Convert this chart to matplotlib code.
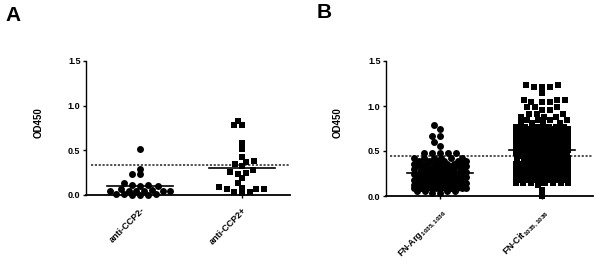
import numpy as np
import matplotlib
matplotlib.use('Agg')
import matplotlib.pyplot as plt

plt.rcParams['font.family'] = ['Liberation Sans', 'DejaVu Sans']
plt.rcParams['mathtext.fontset'] = 'custom'
plt.rcParams['mathtext.rm'] = 'Liberation Sans'
plt.rcParams['mathtext.bf'] = 'Liberation Sans:bold'
plt.rcParams['mathtext.default'] = 'regular'

# ---------------- data ----------------
# Panel A
a_categories = ['anti-CCP2-', 'anti-CCP2+']
a_neg = [0.52, 0.29, 0.23, 0.23, 0.13, 0.11, 0.11, 0.10, 0.10,
         0.05, 0.05, 0.04, 0.05, 0.06, 0.05, 0.04, 0.07,
         0.0, 0.01, 0.0, 0.01, 0.0, 0.01]
a_pos = [0.78, 0.78, 0.83, 0.58, 0.52, 0.42, 0.37, 0.38, 0.32, 0.35, 0.26, 0.24,
         0.25, 0.28, 0.19, 0.13, 0.09, 0.08, 0.07, 0.065, 0.07, 0.03, 0.02, 0.03]
a_cutoff = 0.34

# Panel B (values read as row levels with the number of points at each level)
b_categories = ['FN-Arg$_{1035,1036}$', 'FN-Cit$_{1035,1036}$']
b_arg_levels = [0.79, 0.75, 0.67, 0.60, 0.56, 0.48, 0.42, 0.39, 0.36, 0.33, 0.30,
                0.27, 0.24, 0.21, 0.18, 0.15, 0.12, 0.09, 0.06, 0.03]
b_arg_counts = [1, 1, 2, 1, 1, 5, 6, 6, 7, 7, 8, 8, 9, 10, 11, 12, 12, 12, 4, 2]
b_cit_levels = [1.23, 1.21, 1.15, 1.07, 1.04, 0.99, 0.96, 0.91, 0.88, 0.84, 0.81,
                0.77, 0.74, 0.72, 0.69, 0.66, 0.63, 0.60, 0.57, 0.54, 0.51, 0.48,
                0.45, 0.42, 0.39, 0.36, 0.33, 0.30, 0.27, 0.24, 0.21, 0.18, 0.15,
                0.12, 0.07, 0.0]
b_cit_counts = [2, 3, 1, 3, 3, 3, 2, 3, 3, 4, 4, 6, 8, 8, 8, 8, 8, 8, 8, 9, 9, 9,
                9, 9, 9, 11, 11, 11, 11, 11, 11, 11, 8, 1, 1, 1]
b_cutoff = 0.44

yticks = [0.0, 0.5, 1.0, 1.5]
ylabel = 'OD450'

# ---------------- helpers ----------------
def swarm_x(ax, xc, values, hx, hy, max_half_px):
    """Beeswarm-like layout in pixel space (elliptic collision hx/hy)."""
    x0, x1 = ax.get_xlim()
    y0, y1 = ax.get_ylim()
    sx = ax.bbox.width / (x1 - x0)
    sy = ax.bbox.height / (y1 - y0)
    vals = np.asarray(values, float)
    order = np.argsort(vals, kind='stable')
    cands = np.arange(-max_half_px, max_half_px + 0.01, 1.0)
    cands = cands[np.argsort(np.abs(cands), kind='stable')]
    PX, PY = [], []
    xs = np.zeros(len(vals))
    for i in order:
        py = vals[i] * sy
        ox = 0.0
        if PX:
            ax_ = np.array(PX)
            ay_ = np.array(PY)
            m = np.abs(ay_ - py) < hy
            if m.any():
                d = np.min(np.hypot((cands[:, None] - ax_[m][None, :]) / hx,
                                    (py - ay_[m][None, :]) / hy), axis=1)
                ok = np.where(d >= 1.0)[0]
                j = ok[0] if len(ok) else int(np.argmax(d))
                ox = cands[j]
        PX.append(ox)
        PY.append(py)
        xs[i] = xc + ox / sx
    return xs


def expand(levels, counts):
    out = []
    for v, c in zip(levels, counts):
        out.extend([v] * c)
    return out


def style_axes(ax, cats, xlim):
    ax.set_xlim(*xlim)
    ax.set_ylim(0, 1.5)
    for s in ['top', 'right']:
        ax.spines[s].set_visible(False)
    ax.spines['left'].set_linewidth(1.0)
    ax.spines['bottom'].set_linewidth(1.3)
    ax.set_yticks(yticks)
    ax.set_yticklabels(['%.1f' % t for t in yticks], fontsize=6.5, fontweight='bold')
    ax.tick_params(axis='y', length=2.5, width=1.0, pad=1.5)
    ax.set_xticks(range(len(cats)))
    ax.set_xticklabels(cats, rotation=45, ha='right', va='top',
                       rotation_mode='anchor', fontsize=6.5, fontweight='bold')
    ax.tick_params(axis='x', length=2.5, width=1.0, pad=5)
    ax.set_ylabel(ylabel, fontsize=7, fontweight='bold')


fig = plt.figure(figsize=(6.0, 2.72), dpi=100)
W, H = 600.0, 272.0

axA = fig.add_axes([86 / W, 77 / H, 204 / W, 134 / H])
axB = fig.add_axes([386 / W, 76 / H, 207 / W, 135 / H])

style_axes(axA, a_categories, (-0.53, 1.47))
style_axes(axB, b_categories, (-0.53, 1.5))
axA.yaxis.set_label_coords(-0.21, 0.54)
axB.yaxis.set_label_coords(-0.208, 0.54)

ms_c = 5.0
ms_s = 4.8
half_mean = 0.32
cut_style = dict(color='#333333', lw=1.2, linestyle=(0, (1.3, 1.0)), zorder=2)

# Panel A
xa0 = swarm_x(axA, 0, a_neg, 8.0, 5.0, 30)
xa1 = swarm_x(axA, 1, a_pos, 8.0, 5.0, 30)
axA.plot(xa0, a_neg, 'o', color='black', ms=ms_c, mew=0, clip_on=False, zorder=3)
axA.plot(xa1, a_pos, 's', color='black', ms=ms_s, mew=0, clip_on=False, zorder=3)
for xc, vals in [(0, a_neg), (1, a_pos)]:
    m = np.mean(vals)
    axA.plot([xc - half_mean, xc + half_mean], [m, m], color='black', lw=1.2, zorder=4)
axA.axhline(a_cutoff, xmin=0.025, xmax=1, **cut_style)

# Panel B
b_arg = expand(b_arg_levels, b_arg_counts)
b_cit = expand(b_cit_levels, b_cit_counts)
xb0 = swarm_x(axB, 0, b_arg, 8.0, 5.0, 26)
xb1 = swarm_x(axB, 1, b_cit, 8.0, 5.0, 26)
axB.plot(xb0, b_arg, 'o', color='black', ms=ms_c, mew=0, clip_on=False, zorder=3)
axB.plot(xb1, b_cit, 's', color='black', ms=ms_s, mew=0, clip_on=False, zorder=3)
for xc, vals in [(0, b_arg), (1, b_cit)]:
    m = np.mean(vals)
    axB.plot([xc - half_mean, xc + half_mean], [m, m], color='black', lw=1.2, zorder=4)
axB.axhline(b_cutoff, xmin=0.02, xmax=1, **cut_style)

fig.text(5 / W, 1 - 6 / H, 'A', fontsize=15, fontweight='bold', ha='left', va='top')
fig.text(317 / W, 1 - 3 / H, 'B', fontsize=15, fontweight='bold', ha='left', va='top')

fig.savefig('out.png', dpi=100)
